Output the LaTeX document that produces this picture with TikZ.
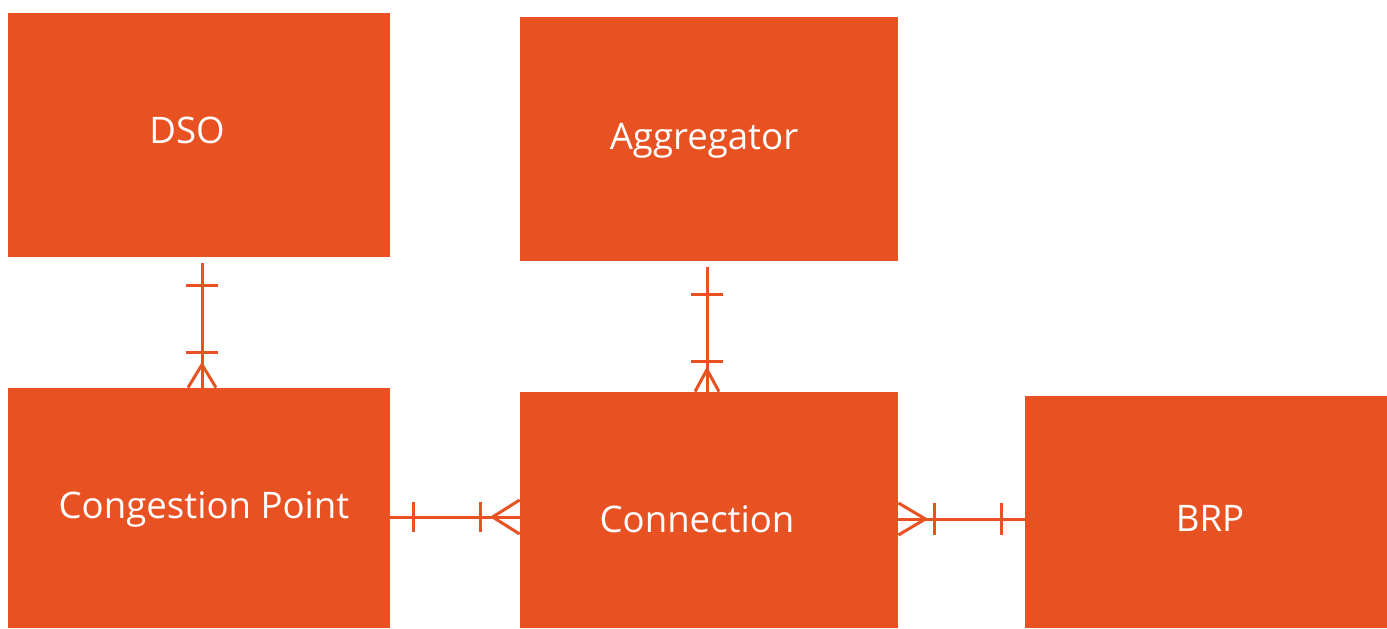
\documentclass[tikz,border=0pt]{standalone}
\usepackage{fontspec}
\setmainfont{Open Sans}
\usetikzlibrary{calc}
\definecolor{brand}{HTML}{E85222}
\tikzset{
  entity/.style={fill=brand, draw=none, inner sep=0pt},
  etext/.style={text=white, font=\fontsize{18.3}{21}\selectfont, inner sep=0pt},
  conn/.style={draw=brand, line width=1.5pt},
}
\begin{document}
\begin{tikzpicture}[x=0.5pt,y=-0.5pt]
\useasboundingbox (0,0) rectangle (1387,628);
\node[entity, minimum width=191pt, minimum height=122pt,
  label={[etext,xshift=-6pt,yshift=2.5pt]center:DSO}] (dso) at (199,135) {};
\node[entity, minimum width=189pt, minimum height=122pt,
  label={[etext,xshift=-2.5pt,yshift=-1pt]center:Aggregator}] (agg) at (709,139) {};
\node[entity, minimum width=191pt, minimum height=120pt,
  label={[etext,xshift=2.5pt,yshift=-0.5pt]center:Congestion Point}] (cp) at (199,508) {};
\node[entity, minimum width=189pt, minimum height=118pt,
  label={[etext,xshift=-6pt,yshift=-4.5pt]center:Connection}] (con) at (709,510) {};
\node[entity, minimum width=181pt, minimum height=116pt,
  label={[etext,xshift=2pt,yshift=-3pt]center:BRP}] (brp) at (1206,512) {};

% DSO -- Congestion Point
\draw[conn] ([xshift=1.5pt,yshift=-3pt]dso.south) coordinate (t1) -- ([xshift=1.5pt]cp.north) coordinate (b1);
\draw[conn] ($(t1)+(-16,22)$) -- ++(32,0);
\draw[conn] ($(t1)+(-16,89)$) -- ++(32,0);
\draw[conn] ($(b1)+(-14,0)$) -- ($(b1)+(0,-23)$) -- ($(b1)+(14,0)$);

% Aggregator -- Connection
\draw[conn] ([xshift=-1pt,yshift=-3pt]agg.south) coordinate (t2) -- ([xshift=-1pt]con.north) coordinate (b2);
\draw[conn] ($(t2)+(-16,27)$) -- ++(32,0);
\draw[conn] ($(t2)+(-16,94)$) -- ++(32,0);
\draw[conn] ($(b2)+(-12,0)$) -- ($(b2)+(0,-22)$) -- ($(b2)+(12,0)$);

% Congestion Point -- Connection
\draw[conn] ([yshift=-4.5pt]cp.east) coordinate (l3) -- ([yshift=-3.5pt]con.west) coordinate (r3);
\draw[conn] ($(l3)+(23,-15)$) -- ++(0,30);
\draw[conn] ($(l3)+(90,-15)$) -- ++(0,30);
\draw[conn] ($(r3)+(0,-17)$) -- ($(r3)+(-27,0)$) -- ($(r3)+(0,17)$);

% Connection -- BRP
\draw[conn] ([yshift=-4.5pt]con.east) coordinate (l4) -- ([yshift=-3.5pt]brp.west) coordinate (r4);
\draw[conn] ($(l4)+(36,-16)$) -- ++(0,32);
\draw[conn] ($(l4)+(103,-16)$) -- ++(0,32);
\draw[conn] ($(l4)+(0,-16)$) -- ($(l4)+(27,0)$) -- ($(l4)+(0,16)$);
\end{tikzpicture}
\end{document}
